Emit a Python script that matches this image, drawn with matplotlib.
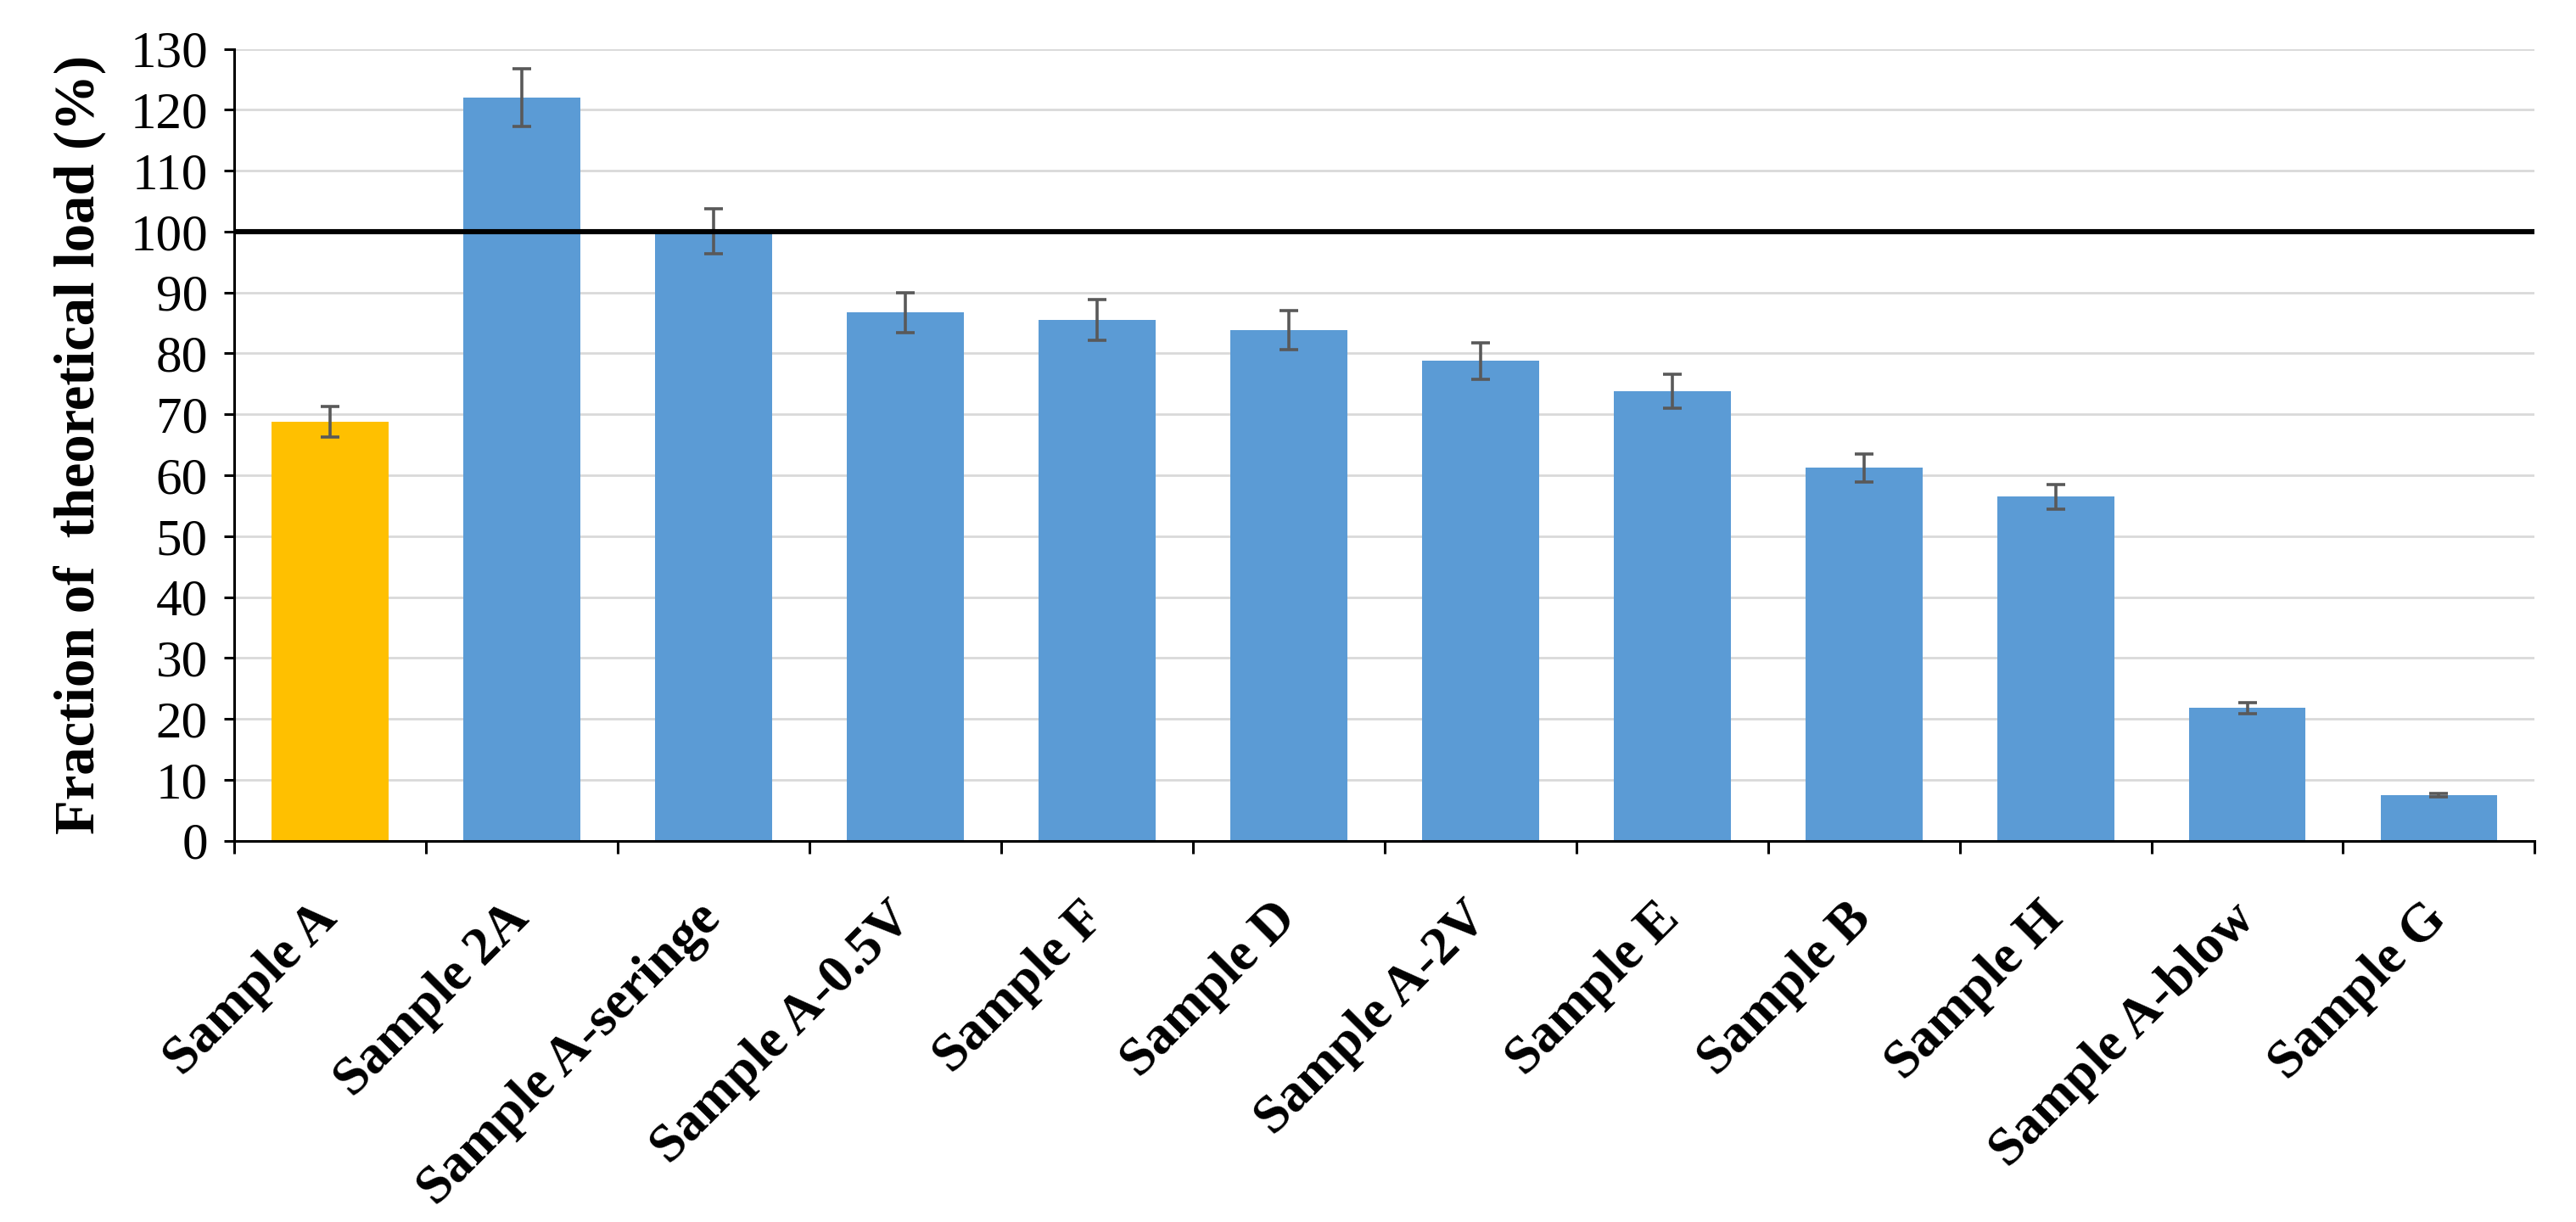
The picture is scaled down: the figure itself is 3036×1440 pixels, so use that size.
import numpy as np
import matplotlib.pyplot as plt

samples = ["Sample A", "Sample 2A", "Sample A-seringe", "Sample A-0.5V", "Sample F",
           "Sample D", "Sample A-2V", "Sample E", "Sample B", "Sample H",
           "Sample A-blow", "Sample G"]
load_pct = [68.8, 122.0, 100.0, 86.7, 85.5, 83.8, 78.8, 73.8, 61.2, 56.5, 21.8, 7.5]
load_err = [2.5, 4.7, 3.7, 3.3, 3.3, 3.2, 3.0, 2.8, 2.3, 2.0, 0.9, 0.3]
bar_colors = ["#FFC000"] + ["#5B9BD5"] * 11
reference_line = 100

plt.rcParams['font.family'] = ['Liberation Serif', 'DejaVu Serif']

fig = plt.figure(figsize=(15.18, 7.2), dpi=200)
ax = fig.add_axes([0.091, 0.312, 0.893, 0.648])

x = np.arange(len(samples))
ax.bar(x, load_pct, width=0.61, color=bar_colors, zorder=2)
ax.errorbar(x, load_pct, yerr=load_err, fmt='none', ecolor='#595959',
            elinewidth=1.3, capsize=4, capthick=1.3, zorder=3)
ax.axhline(reference_line, color='black', lw=2.2, zorder=4)

ax.set_xlim(-0.5, len(samples) - 0.5)
ax.set_ylim(0, 130)
ax.set_yticks(np.arange(0, 131, 10))
ax.yaxis.grid(True, color='#D9D9D9', lw=1.0, zorder=0)
ax.set_axisbelow(True)

# ticks between categories, labels centred on bars
ax.set_xticks(np.arange(-0.5, len(samples), 1.0))
ax.set_xticklabels([])
ax.set_xticks(x, minor=True)
ax.set_xticklabels(samples, minor=True, rotation=45, ha='right', va='center',
                   rotation_mode='anchor', fontsize=23, fontweight='bold')
ax.tick_params(axis='x', which='minor', length=0, pad=30)
ax.tick_params(axis='x', which='major', length=5.5, width=1.1, direction='out')
ax.tick_params(axis='y', length=4.3, width=1.1, labelsize=22, pad=7)

for s in ['top', 'right']:
    ax.spines[s].set_visible(False)
for s in ['left', 'bottom']:
    ax.spines[s].set_linewidth(1.1)
    ax.spines[s].set_color('black')

ax.set_ylabel("Fraction of  theoretical load (%)", fontsize=24,
              fontweight='bold', labelpad=10)

fig.savefig("out.png", dpi=200)
